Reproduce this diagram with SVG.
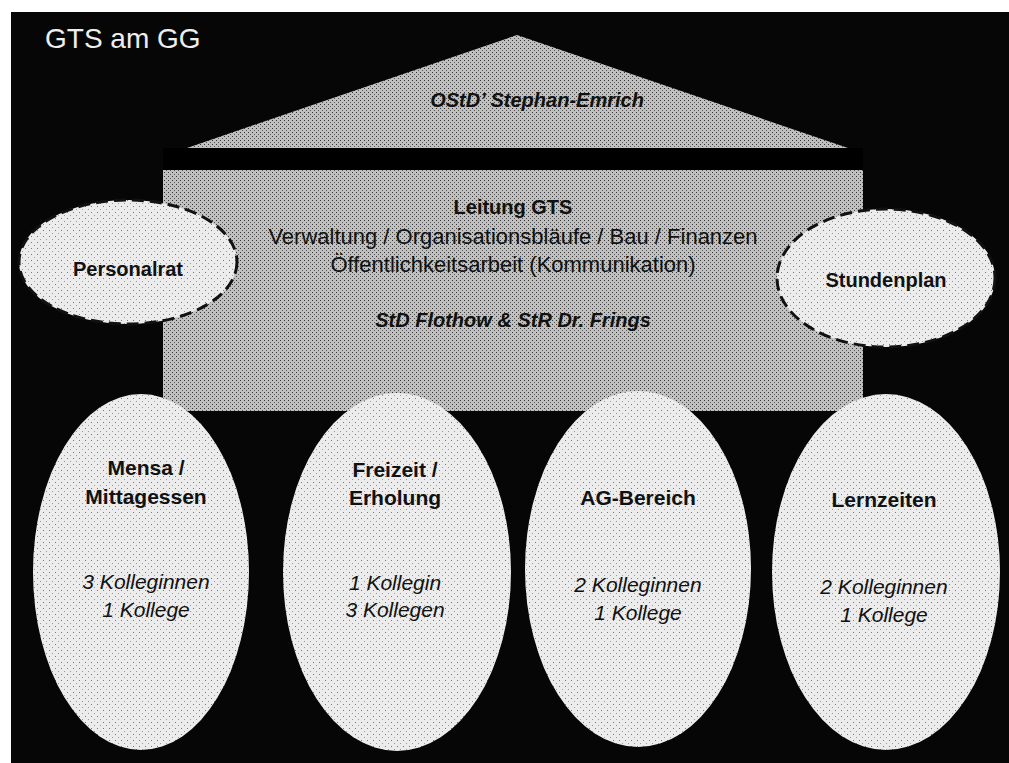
<svg xmlns="http://www.w3.org/2000/svg" width="1009" height="763" viewBox="0 0 1009 763">
<defs>
<pattern id="hatch" width="4" height="4" patternUnits="userSpaceOnUse">
<rect width="4" height="4" fill="#c0c0c0"/>
<rect x="0" y="0" width="1" height="1" fill="#333"/>
<rect x="2" y="2" width="1" height="1" fill="#555"/>
</pattern>
<pattern id="dots" width="6" height="6" patternUnits="userSpaceOnUse">
<rect width="6" height="6" fill="#ececec"/>
<rect x="1" y="2" width="1" height="1" fill="#777"/>
<rect x="4" y="5" width="1" height="1" fill="#999"/>
</pattern>
</defs>
<style>
.t{font-family:"Liberation Sans",Arial,sans-serif;fill:#111;text-anchor:middle}
.b{font-weight:bold}
.i{font-style:italic}
.bi{font-weight:bold;font-style:italic}
.lab{font-size:21px}
.cnt{font-size:21px}
.oval{fill:url(#dots)}
.dash{fill:url(#dots);stroke:#111;stroke-width:3;stroke-dasharray:12 6}
</style>
<rect x="0" y="0" width="1009" height="763" fill="#ffffff"/>
<rect x="11" y="12" width="998" height="751" fill="#060606"/>
<g id="title"><text x="45" y="48" style="font-family:'Liberation Sans',Arial,sans-serif;font-size:28px;fill:#eeeeee">GTS am GG</text></g>
<g id="roof">
<polygon points="187,148 517,35 848,148" fill="url(#hatch)"/>
<text class="t bi" x="537" y="107" font-size="20">OStD’ Stephan-Emrich</text>
</g>
<g id="bar"><rect x="163" y="148" width="700" height="22" fill="#000"/></g>
<g id="leitung">
<rect x="163" y="170" width="700" height="241" fill="url(#hatch)"/>
<text class="t b" x="513" y="214" font-size="20">Leitung GTS</text>
<text class="t" x="513" y="244" font-size="22">Verwaltung / Organisationsbläufe / Bau / Finanzen</text>
<text class="t" x="513" y="272" font-size="22">Öffentlichkeitsarbeit (Kommunikation)</text>
<text class="t bi" x="513" y="327" font-size="20">StD Flothow &amp; StR Dr. Frings</text>
</g>
<g id="personalrat">
<ellipse class="dash" cx="128" cy="262" rx="109" ry="62"/>
<text class="t b" x="128" y="276" font-size="20">Personalrat</text>
</g>
<g id="stundenplan">
<ellipse class="dash" cx="886" cy="278" rx="109" ry="69"/>
<text class="t b" x="886" y="287" font-size="20">Stundenplan</text>
</g>
<g id="mensa">
<ellipse class="oval" cx="141" cy="572" rx="108" ry="178"/>
<text class="t b lab" x="146" y="475">Mensa /</text>
<text class="t b lab" x="146" y="504">Mittagessen</text>
<text class="t i cnt" x="146" y="589">3 Kolleginnen</text>
<text class="t i cnt" x="146" y="617">1 Kollege</text>
</g>
<g id="freizeit">
<ellipse class="oval" cx="397" cy="572" rx="114" ry="179"/>
<text class="t b lab" x="395" y="477">Freizeit /</text>
<text class="t b lab" x="395" y="505">Erholung</text>
<text class="t i cnt" x="395" y="590">1 Kollegin</text>
<text class="t i cnt" x="395" y="617">3 Kollegen</text>
</g>
<g id="ag">
<ellipse class="oval" cx="638" cy="569" rx="113" ry="178"/>
<text class="t b lab" x="638" y="505">AG-Bereich</text>
<text class="t i cnt" x="638" y="592">2 Kolleginnen</text>
<text class="t i cnt" x="638" y="620">1 Kollege</text>
</g>
<g id="lernzeiten">
<ellipse class="oval" cx="886" cy="572" rx="114" ry="178"/>
<text class="t b lab" x="884" y="507">Lernzeiten</text>
<text class="t i cnt" x="884" y="594">2 Kolleginnen</text>
<text class="t i cnt" x="884" y="622">1 Kollege</text>
</g>
<g id="connectors"></g>
</svg>
